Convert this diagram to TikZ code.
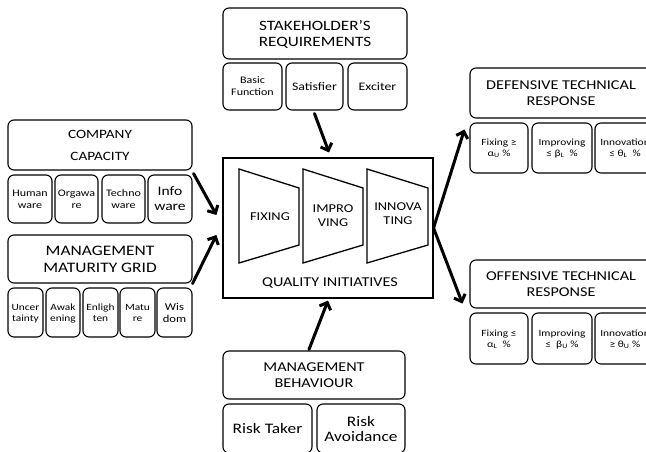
\documentclass[tikz,border=0pt]{standalone}
\usepackage{fontspec}
\setmainfont[FakeStretch=1.2]{Carlito}
\usetikzlibrary{arrows.meta,calc}

% rounded panel spanning two corners: [style] name, x1, y1, x2, y2, text
\newcommand\panel[7][]{%
  \node[box, minimum width={#5pt-#3pt}, minimum height={#6pt-#4pt}, #1]
    (#2) at ({(#3+#5)/2},{(#4+#6)/2}) {#7};}
\newcommand\fs[2]{\fontsize{#1}{#2}\selectfont}

\begin{document}
\begin{tikzpicture}[x=1pt,y=-1pt,
  box/.style={draw, rounded corners=6pt, line width=1.1pt, inner sep=0pt,
    align=center, text depth=0pt},
  head/.style={font=\fs{13.5}{16}},
  small/.style={font=\fs{10}{12}},
  tiny/.style={font=\fs{9.5}{11}},
  stage/.style={draw, line width=1.3pt, line join=miter},
  stagetext/.style={align=center, font=\fs{12}{14}},
  flow/.style={line width=3pt, line cap=round,
    -{Straight Barb[length=6pt,width=12pt,line width=3pt]}}]
\useasboundingbox (0,0) rectangle (646,452);
\clip (0,0) rectangle (646,452);

% company capacity
\panel[font=\fs{12.7}{22}]{cc}{8}{120}{192}{170}{COMPANY\\CAPACITY}
\panel[small]{hw}{8}{175}{52}{223}{Human\\ware}
\panel[small]{ow}{55}{175}{98}{223}{Orgawa\\re}
\panel[small]{tw}{102}{175}{145}{223}{Techno\\ware}
\panel[font=\fs{13}{15}]{iw}{148}{175}{192}{223}{Info\\ware}

% management maturity grid
\panel[font=\fs{14.5}{17}]{mmg}{8}{235}{192}{283}{MANAGEMENT\\MATURITY GRID}
\panel[tiny]{unc}{8}{288}{43}{337}{Uncer\\tainty}
\panel[tiny]{awk}{46}{288}{80}{337}{Awak\\ening}
\panel[tiny]{enl}{83}{288}{118}{337}{Enligh\\ten}
\panel[tiny]{mat}{120}{288}{155}{337}{Matu\\re}
\panel[font=\fs{10.5}{12}]{wis}{157}{288}{192}{337}{Wis\\dom}

% stakeholder's requirements
\panel[font=\fs{14.3}{16}]{sr}{223}{8}{407}{59}{STAKEHOLDER’S\\REQUIREMENTS}
\panel[small]{bf}{223}{63}{282}{110}{Basic\\Function}
\panel[font=\fs{11.5}{13}]{sat}{286}{63}{343}{110}{Satisfier}
\panel[font=\fs{11.5}{13}]{exc}{348}{63}{407}{110}{Exciter}

% quality initiatives
\node[draw, line width=1.1pt, inner sep=0pt, minimum width=210pt, minimum height=140pt]
  (qi) at (328,228) {};
\node[font=\fs{13.5}{15}] (qilabel) at (330,283) {QUALITY INITIATIVES};
\draw[stage] (239,169) -- (299,188) -- (299,245) -- (239,263) -- cycle;
\draw[stage] (303,169) -- (363,188) -- (363,245) -- (303,263) -- cycle;
\draw[stage] (367,169) -- (428,188) -- (428,245) -- (367,263) -- cycle;
\node[stagetext] (fixing) at (270,217) {FIXING};
\node[stagetext] (improving) at (333,216) {IMPRO\\VING};
\node[stagetext] (innovating) at (398,214) {INNOVA\\TING};

% defensive technical response
\panel[head]{def}{470}{68}{652}{118}{DEFENSIVE TECHNICAL\\RESPONSE}
\panel[tiny]{dfix}{470}{123}{528}{173}{Fixing ≥\\α\textsubscript{U} \%}
\panel[tiny]{dimp}{532}{123}{592}{173}{Improving\\≤ β\textsubscript{L} \ \%}
\panel[tiny]{dinn}{595}{123}{655}{173}{Innovation\\≤ θ\textsubscript{L} \ \%}

% offensive technical response
\panel[head]{off}{470}{260}{652}{308}{OFFENSIVE TECHNICAL\\RESPONSE}
\panel[tiny]{ofix}{470}{313}{528}{364}{Fixing ≤\\α\textsubscript{L} \ \%}
\panel[tiny]{oimp}{532}{313}{592}{364}{Improving\\≤ \ β\textsubscript{U} \%}
\panel[tiny]{oinn}{595}{313}{655}{364}{Innovation\\≥ θ\textsubscript{U} \%}

% management behaviour
\panel[font=\fs{13.5}{16}]{mb}{223}{351}{405}{399}{MANAGEMENT\\BEHAVIOUR}
\panel[font=\fs{14.5}{15}]{rt}{223}{404}{312}{453}{Risk Taker}
\panel[font=\fs{14.5}{15}]{ra}{317}{404}{405}{453}{Risk\\Avoidance}

% influences on the quality initiatives
\draw[flow] ($(sat.south)+(0,3)$) -- ($(qi.north)+(1,-5)$);
\draw[flow] ($(cc.south east)+(1,3)$) -- ($(qi.west)+(-6,-13)$);
\draw[flow] (mmg.south east) -- ($(qi.west)+(-6,7)$);
\draw[flow] ($(mb.north)+(-5,-1)$) -- ($(qi.south)+(0,2)$);
% technical responses
\draw[flow] (qi.east) -- ($(dfix.north west)+(-5,7)$);
\draw[flow] (qi.east) -- ($(off.south west)+(-7,-5)$);
\end{tikzpicture}
\end{document}
